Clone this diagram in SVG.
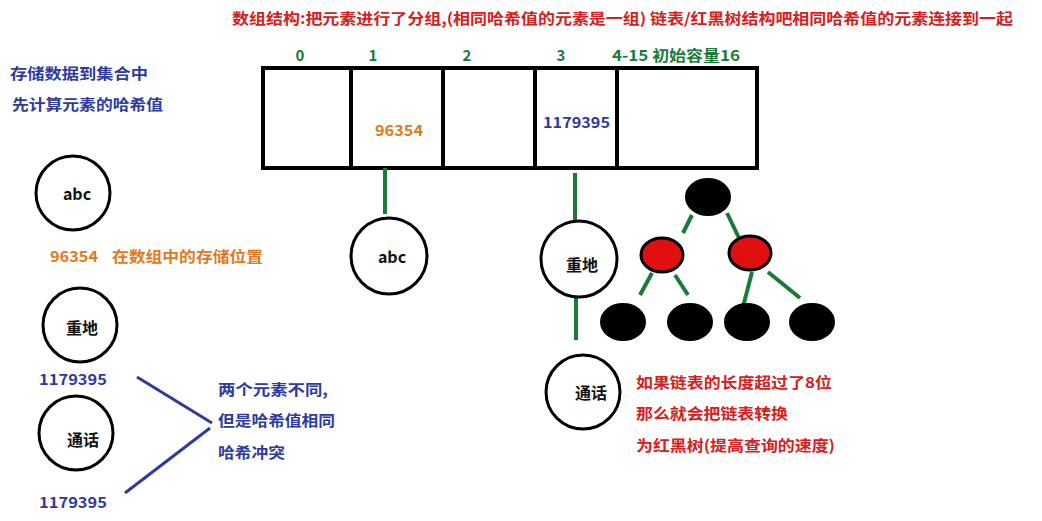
<svg xmlns="http://www.w3.org/2000/svg" width="1042" height="521" viewBox="0 0 1042 521">
<style>
text{font-family:"Noto Sans CJK SC","Liberation Sans",sans-serif;font-weight:bold;font-size:15px}
.red{fill:#d42020}.blue{fill:#2e3a9e}.green{fill:#1a7a3a}.orange{fill:#e07a20}.blk{fill:#111;font-size:16px}
.node{fill:#fff;stroke:#000;stroke-width:3}
.cell{fill:#fff;stroke:#000;stroke-width:4}
.g{stroke:#1a7a3a;stroke-width:4;fill:none}
.b{stroke:#2e3a9e;stroke-width:3;fill:none}
.bn{fill:#000;stroke:#000;stroke-width:2}
.rn{fill:#e01010;stroke:#000;stroke-width:3}
</style>
<rect width="1042" height="521" fill="#fff"/>
<text class="red" x="232" y="24" textLength="781" lengthAdjust="spacingAndGlyphs">数组结构:把元素进行了分组,(相同哈希值的元素是一组) 链表/红黑树结构吧相同哈希值的元素连接到一起</text>
<text class="blue" x="10" y="79" textLength="138" lengthAdjust="spacingAndGlyphs">存储数据到集合中</text>
<text class="blue" x="12" y="110" textLength="151" lengthAdjust="spacingAndGlyphs">先计算元素的哈希值</text>
<g id="array">
<rect class="cell" x="263" y="68" width="494" height="100"/>
<line class="cell" x1="351" y1="68" x2="351" y2="168"/>
<line class="cell" x1="443" y1="68" x2="443" y2="168"/>
<line class="cell" x1="535" y1="68" x2="535" y2="168"/>
<line class="cell" x1="617" y1="68" x2="617" y2="168"/>
<text class="green" x="300" y="61" text-anchor="middle">0</text>
<text class="green" x="373" y="61" text-anchor="middle">1</text>
<text class="green" x="467" y="61" text-anchor="middle">2</text>
<text class="green" x="561" y="61" text-anchor="middle">3</text>
<text class="green" x="612" y="61" textLength="128" lengthAdjust="spacingAndGlyphs">4-15 初始容量16</text>
<text class="orange" x="375" y="136" textLength="48" lengthAdjust="spacingAndGlyphs">96354</text>
<text class="blue" x="543" y="128" textLength="67" lengthAdjust="spacingAndGlyphs">1179395</text>
</g>
<g id="connectors">
<line class="g" x1="385" y1="168" x2="385" y2="214"/>
<line class="g" x1="575" y1="173" x2="575" y2="221"/>
<line class="g" x1="576" y1="296" x2="576" y2="340"/>
<line class="g" x1="692" y1="215" x2="683" y2="233"/>
<line class="g" x1="727" y1="213" x2="739" y2="238"/>
<line class="g" x1="652" y1="273" x2="640" y2="295"/>
<line class="g" x1="675" y1="275" x2="688" y2="295"/>
<line class="g" x1="752" y1="272" x2="743" y2="307"/>
<line class="g" x1="768" y1="272" x2="800" y2="298"/>
<line class="b" x1="137" y1="377" x2="212" y2="423"/>
<line class="b" x1="210" y1="428" x2="125" y2="493"/>
</g>
<g id="left-abc">
<circle class="node" cx="73" cy="193" r="37"/>
<text class="blk" x="77" y="200" text-anchor="middle">abc</text>
</g>
<text class="orange" x="50" y="262" textLength="48" lengthAdjust="spacingAndGlyphs">96354</text>
<text class="orange" x="112" y="262" textLength="151" lengthAdjust="spacingAndGlyphs">在数组中的存储位置</text>
<g id="left-zhongdi">
<circle class="node" cx="80" cy="325" r="37"/>
<text class="blk" x="82" y="334" text-anchor="middle">重地</text>
</g>
<text class="blue" x="39" y="385" textLength="68" lengthAdjust="spacingAndGlyphs">1179395</text>
<g id="left-tonghua">
<circle class="node" cx="76" cy="433" r="37"/>
<text class="blk" x="83" y="446" text-anchor="middle">通话</text>
</g>
<text class="blue" x="39" y="508" textLength="68" lengthAdjust="spacingAndGlyphs">1179395</text>
<text class="blue" x="218" y="395" textLength="110" lengthAdjust="spacingAndGlyphs">两个元素不同,</text>
<text class="blue" x="218" y="426" textLength="117" lengthAdjust="spacingAndGlyphs">但是哈希值相同</text>
<text class="blue" x="218" y="458" textLength="67" lengthAdjust="spacingAndGlyphs">哈希冲突</text>
<g id="node-abc">
<circle class="node" cx="389" cy="256" r="38"/>
<text class="blk" x="392" y="263" text-anchor="middle">abc</text>
</g>
<g id="node-zhongdi">
<circle class="node" cx="579" cy="259" r="38"/>
<text class="blk" x="582" y="271" text-anchor="middle">重地</text>
</g>
<g id="node-tonghua">
<circle class="node" cx="583" cy="392" r="37"/>
<text class="blk" x="591" y="399" text-anchor="middle">通话</text>
</g>
<g id="tree">
<ellipse class="bn" cx="708" cy="197" rx="22" ry="18"/>
<ellipse class="rn" cx="662" cy="255" rx="21" ry="17"/>
<ellipse class="rn" cx="750" cy="253" rx="21" ry="17"/>
<ellipse class="bn" cx="623" cy="322" rx="22" ry="18"/>
<ellipse class="bn" cx="690" cy="322" rx="22" ry="18"/>
<ellipse class="bn" cx="747" cy="322" rx="22" ry="18"/>
<ellipse class="bn" cx="812" cy="322" rx="22" ry="18"/>
</g>
<text class="red" x="636" y="388" textLength="196" lengthAdjust="spacingAndGlyphs">如果链表的长度超过了8位</text>
<text class="red" x="636" y="419" textLength="152" lengthAdjust="spacingAndGlyphs">那么就会把链表转换</text>
<text class="red" x="636" y="451" textLength="199" lengthAdjust="spacingAndGlyphs">为红黑树(提高查询的速度)</text>
</svg>
